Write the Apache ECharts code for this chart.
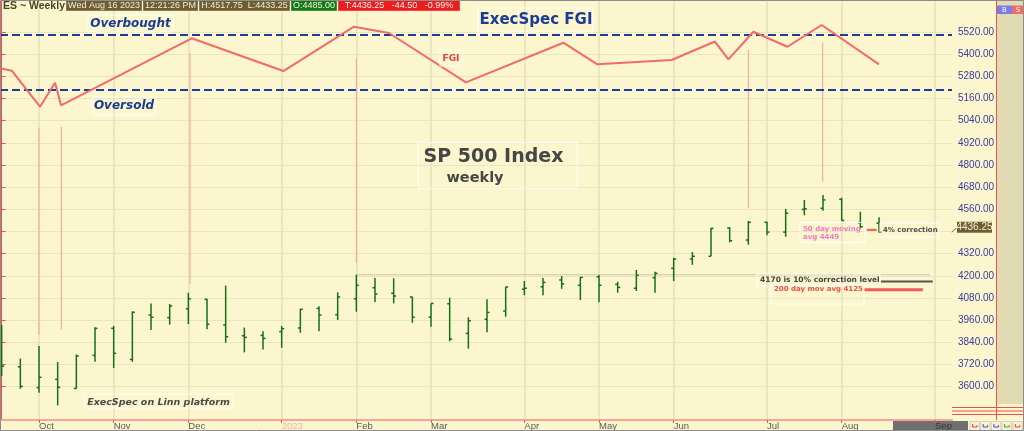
<!DOCTYPE html>
<html><head><meta charset="utf-8">
<script src="https://cdn.jsdelivr.net/npm/echarts@6/dist/echarts.min.js"></script>
<style>html,body{margin:0;padding:0;background:#fbf6cd;}#c{width:1024px;height:431px;}</style>
</head><body><div id="c"></div>
<script>
// ---- weekly ES bars (week ending Friday) ----
const weekEnding = ['2022-09-23','2022-09-30','2022-10-07','2022-10-14','2022-10-21','2022-10-28','2022-11-04','2022-11-11','2022-11-18','2022-11-25','2022-12-02','2022-12-09','2022-12-16','2022-12-23','2022-12-30','2023-01-06','2023-01-13','2023-01-20','2023-01-27','2023-02-03','2023-02-10','2023-02-17','2023-02-24','2023-03-03','2023-03-10','2023-03-17','2023-03-24','2023-03-31','2023-04-07','2023-04-14','2023-04-21','2023-04-28','2023-05-05','2023-05-12','2023-05-19','2023-05-26','2023-06-02','2023-06-09','2023-06-16','2023-06-23','2023-06-30','2023-07-07','2023-07-14','2023-07-21','2023-07-28','2023-08-04','2023-08-11','2023-08-18'];
const openP  = [3889,3708,3595,3640,3591,3770,3916,3748,3988,3974,4022,4073,3934,3876,3878,3898,3918,4024,3990,4076,4136,4106,4086,3976,4049,3889,3965,4010,4128,4141,4178,4149,4195,4154,4133,4190,4241,4291,4306,4459,4394,4490,4437,4560,4566,4614,4488,4485];
const highP  = [3934,3752,3820,3734,3775,3922,3929,4008,4051,4048,4109,4076,4147,3920,3900,3929,4022,4035,4111,4206,4188,4187,4087,4051,4082,3976,4074,4141,4172,4188,4199,4194,4205,4168,4232,4222,4298,4329,4459,4463,4497,4493,4562,4611,4638,4623,4547,4517.75];
const lowP   = [3658,3589,3568,3499,3589,3735,3701,3735,3907,3936,3939,3911,3838,3786,3802,3811,3892,3900,3961,4006,4059,4051,3946,3925,3846,3806,3895,3979,4095,4095,4130,4069,4057,4109,4118,4109,4172,4260,4306,4382,4369,4420,4412,4528,4553,4499,4457,4433.25];
const closeP = [3712,3602,3651,3597,3766,3916,3781,4003,3976,4037,4076,3938,3871,3867,3862,3914,4019,3988,4086,4149,4102,4091,3976,4051,3858,3957,4002,4140,4133,4165,4156,4192,4149,4138,4203,4214,4291,4306,4457,4390,4490,4437,4539,4563,4611,4500,4466,4436.25];

// ---- ExecSpec FGI (week position, value; overbought 80 / oversold 20) ----
const fgiWeek  = [-0.09,0.54,2.05,2.86,3.18,10.18,15.09,18.87,20.75,24.87,30.09,31.91,35.89,38.21,38.93,40.27,42.09,43.93,47.0];
const fgiValue = [43.7,41.1,1.8,28.0,3.3,76.4,40.7,89.1,82.2,28.4,71.6,48.0,52.7,72.9,53.5,83.6,67.2,90.9,48.0];
const overbought = 80, oversold = 20;

// ---- connector lines from FGI extremes down to price ----
const vLineWeek   = [2.0,3.2,10.09,19.0,40.0,43.98];
const vLineTop    = [5000,5006,5406,5379,5423,5462];
const vLineBottom = [3880,3910,4156,4270,4566,4710];

// ---- levels ----
const level10pct = 4170, ma200 = 4125, ma50 = 4449;

// ---- ticks ----
const monthTickWeeks  = [2,6,10,15,19,23,28,32,36,41,45,50];
const monthTickLabels = ['Oct','Nov','Dec','2023','Feb','Mar','Apr','May','Jun','Jul','Aug','Sep'];
const priceTicks = [3600,3720,3840,3960,4080,4200,4320,4440,4560,4680,4800,4920,5040,5160,5280,5400,5520];

const last = openP.length - 1;
const bars = weekEnding.map((d,i)=>[i, openP[i], closeP[i], lowP[i], highP[i]]);
const vlines = vLineWeek.map((w,i)=>[w, vLineTop[i], vLineBottom[i]]);
const xMin = -0.09, xMax = 50.91;

const chart = echarts.init(document.getElementById('c'), null, {renderer:'canvas', width:1024, height:431});

function seg(x1,x2,y){return [[x1,y],[x2,y]];}

const boxStroke = 'rgba(255,255,255,0.85)';
function box(x,y,w,h){return {type:'rect', shape:{x,y,width:w,height:h}, style:{fill:'none', stroke:boxStroke, lineWidth:1}, z:50};}
function txt(x,y,text,font,fill,align){return {type:'text', x, y, style:{text, font, fill, align:align||'center', verticalAlign:'middle'}, z:60};}
function hbox(x,w,text,bg,fg){return [
  {type:'rect', shape:{x, y:0, width:w, height:11}, style:{fill:bg, stroke:'rgba(255,255,255,0.35)', lineWidth:1}, z:80},
  {type:'text', x:x+w/2, y:5.8, style:{text, font:'9px "Liberation Sans"', fill:fg, align:'center', verticalAlign:'middle'}, z:81}
];}

const graphics = [].concat(
  // right strip
  [{type:'rect', shape:{x:997,y:0,width:27,height:404}, style:{fill:'#e0dbb2'}, z:-5},
   {type:'line', shape:{x1:996.5,y1:0,x2:996.5,y2:420}, style:{stroke:'#f05050',lineWidth:1}, z:5},
   {type:'line', shape:{x1:952,y1:407.5,x2:1024,y2:407.5}, style:{stroke:'#f05050',lineWidth:1}, z:5},
   {type:'line', shape:{x1:952,y1:411,x2:1024,y2:411}, style:{stroke:'#f05050',lineWidth:1}, z:5},
   {type:'line', shape:{x1:952,y1:414.5,x2:1024,y2:414.5}, style:{stroke:'#f05050',lineWidth:1}, z:5},
   {type:'rect', shape:{x:997,y:5.5,width:15,height:8.5}, style:{fill:'#7b7bea'}, z:10},
   {type:'text', x:1004.5, y:10, style:{text:'B', font:'7px "DejaVu Sans"', fill:'#fff', align:'center', verticalAlign:'middle'}, z:11},
   {type:'rect', shape:{x:1012,y:5.5,width:12,height:8.5}, style:{fill:'#ef6b6b'}, z:10},
   {type:'text', x:1018, y:10, style:{text:'S', font:'7px "DejaVu Sans"', fill:'#fff', align:'center', verticalAlign:'middle'}, z:11},
   {type:'rect', shape:{x:893,y:421,width:75,height:10}, style:{fill:'#707070'}, z:-1}
  ],
  ['#e84040','#4a4ad0','#4a4ad0','#40a040','#e84040'].map((c,i)=>({type:'group', children:[
     {type:'rect', shape:{x:970+i*10.7,y:421.5,width:9.5,height:9}, style:{fill:'#f6f1d8', stroke:'#d8d2b0', lineWidth:1}},
     {type:'polyline', shape:{points:[[972.5+i*10.7,424],[972.5+i*10.7,427],[977+i*10.7,427],[977+i*10.7,425]]}, style:{stroke:c, lineWidth:1, fill:'none'}}
   ], z:10})),
  // header
  [txt(3,5.8,'ES ~ Weekly','bold 10.5px "Liberation Sans"','#4a4124','left')],
  hbox(66,76,'Wed Aug 16 2023','#6e5f33','#f3ecd2'),
  hbox(143,55,'12:21:26 PM','#6e5f33','#f3ecd2'),
  hbox(199,91,'H:'+highP[last].toFixed(2)+'  L:'+lowP[last].toFixed(2),'#6e5f33','#f3ecd2'),
  hbox(291,46,'O:'+openP[last].toFixed(2),'#147a14','#f3f3e0'),
  hbox(338,122,'T:'+closeP[last].toFixed(2)+'   -44.50   -0.99%','#ee1c1c','#fff5f0'),
  // annotations
  [box(88,15,85,17), txt(130.5,24,'Overbought','bold italic 12px "DejaVu Sans"','#1b3b98'),
   box(93,97,62,18), txt(124,106,'Oversold','bold italic 12px "DejaVu Sans"','#1b3b98'),
   box(478,8,115,24), txt(536,20,'ExecSpec FGI','bold 15px "DejaVu Sans"','#1b3b98'),
   box(440,50,22,16), txt(451,58.5,'FGI','bold 9px "DejaVu Sans"','#d04848'),
   box(418,143,159,45), txt(493.5,157,'SP 500 Index','bold 19px "DejaVu Sans"','#464646'),
   txt(475,178,'weekly','bold 14.5px "DejaVu Sans"','#464646'),
   box(84,394,149,14), txt(158.5,402.5,'ExecSpec on Linn platform','bold italic 9.5px "DejaVu Sans"','#4a4a4a'),
   box(800,222.5,65,20), txt(803,229,'50 day moving','bold 7px "DejaVu Sans"','#f07cc4','left'),
   txt(803,237,'avg '+ma50,'bold 7px "DejaVu Sans"','#f07cc4','left'),
   box(880,223,59,14), txt(883,230.5,'4% correction','bold 7px "DejaVu Sans"','#505050','left'),
   box(757,274,123,12), txt(760,280.3,level10pct+' is 10% correction level','bold 7.5px "DejaVu Sans"','#444','left'),
   box(771,285,93,19), txt(774,289.5,'200 day mov avg '+ma200,'bold 7px "DejaVu Sans"','#f05050','left'),
   {type:'rect', shape:{x:0.5,y:0.5,width:1023,height:430}, style:{fill:'none', stroke:'#8c8c8c', lineWidth:1}, z:90}
  ]
);

const option = {
  backgroundColor:'#fbf6cd',
  animation:false,
  grid:{left:0, right:72, top:0, bottom:11},
  xAxis:[{
    type:'value', min:xMin, max:xMax,
    axisLine:{show:true, onZero:false, lineStyle:{color:'#f7a595', width:2}},
    axisTick:{show:true, customValues:monthTickWeeks, length:3, lineStyle:{color:'#ee5555'}},
    axisLabel:{customValues:monthTickWeeks, align:'left', margin:1, fontSize:9.5, fontFamily:'Liberation Sans', color:'#5a5a55',
      formatter:(v)=>{const i=monthTickWeeks.findIndex(t=>Math.abs(t-v)<0.01); if(i<0) return ''; const s=monthTickLabels[i]; return s==='2023'?'{yr|'+s+'}':(s==='Sep'?'{sep|'+s+'}':s);},
      rich:{yr:{color:'#f2b2a2', fontSize:9.5, fontFamily:'Liberation Sans'}, sep:{color:'#333', fontSize:9.5, fontFamily:'Liberation Sans'}}},
    splitLine:{show:true, lineStyle:{color:'#e7e1bb', width:1.5}}
  }],
  yAxis:[{
    type:'value', position:'right', min:3420, max:5693, scale:true,
    axisLine:{show:true, lineStyle:{color:'#f05050', width:1}},
    axisTick:{show:true, customValues:priceTicks, length:4, lineStyle:{color:'#f05050'}},
    axisLabel:{customValues:priceTicks, margin:6, fontSize:10, fontFamily:'Liberation Sans', color:'#3a3aa0', padding:[0,0,7,0],
      formatter:(v)=> Math.abs(v-4440)<0.5 ? '' : v.toFixed(2)},
    splitLine:{show:true, lineStyle:{color:'#ebe5c1', width:1}}
  },{
    type:'value', min:-340, max:118.2, show:false
  }],
  graphic:graphics,
  series:[
    {type:'line', name:'Overbought', yAxisIndex:1, data:seg(xMin,xMax,overbought), symbol:'none', silent:true,
      lineStyle:{color:'#1c3c9c', width:2, type:[8,4]}, z:3},
    {type:'line', name:'Oversold', yAxisIndex:1, data:seg(xMin,xMax,oversold), symbol:'none', silent:true,
      lineStyle:{color:'#1c3c9c', width:2, type:[8,4]}, z:3},
    {type:'line', name:'FGI', yAxisIndex:1, data:fgiWeek.map((w,i)=>[w,fgiValue[i]]), symbol:'none',
      lineStyle:{color:'#f26a6a', width:2}, z:4},
    {type:'custom', name:'connectors', data:vlines, encode:{x:0,y:[1,2]}, z:2,
      renderItem:(p,api)=>{const a=api.coord([api.value(0),api.value(1)]), b=api.coord([api.value(0),api.value(2)]);
        return {type:'line', shape:{x1:a[0],y1:a[1],x2:b[0],y2:b[1]}, style:{stroke:'#f6a0a0', lineWidth:1}};}},
    {type:'line', name:'Feb high', data:seg(19,49.73,highP[19]), symbol:'none', lineStyle:{color:'#9a9a8a', width:1, type:[1,1]}, z:2},
    {type:'line', name:'10% level', data:seg(47.1,49.88,level10pct), symbol:'none', lineStyle:{color:'#555555', width:2}, z:5},
    {type:'line', name:'200 day', data:seg(46.2,49.35,ma200), symbol:'none', lineStyle:{color:'#f25a5a', width:3}, z:5},
    {type:'line', name:'50 day', data:seg(46.35,46.87,ma50), symbol:'none', lineStyle:{color:'#f25a5a', width:2}, z:5},
    {type:'custom', name:'ES', data:bars, encode:{x:0, y:[1,2,3,4]}, z:6,
      renderItem:(p,api)=>{
        const x=api.value(0);
        const o=api.coord([x,api.value(1)]), c=api.coord([x,api.value(2)]), l=api.coord([x,api.value(3)]), h=api.coord([x,api.value(4)]);
        const st={stroke:'#157018', lineWidth:1.5}; const t=2.5;
        return {type:'group', children:[
          {type:'line', shape:{x1:h[0],y1:h[1],x2:l[0],y2:l[1]}, style:st},
          {type:'line', shape:{x1:o[0]-t,y1:o[1],x2:o[0],y2:o[1]}, style:st},
          {type:'line', shape:{x1:c[0],y1:c[1],x2:c[0]+t,y2:c[1]}, style:st}
        ]};
      }}
  ]
};
chart.setOption(option);

// current-price tag on the price axis, positioned through the axis scale
const tagY = chart.convertToPixel({yAxisIndex:0}, closeP[last]);
const axisX = chart.convertToPixel({xAxisIndex:0}, xMax);
chart.setOption({graphic: graphics.concat([
  {type:'line', shape:{x1:axisX, y1:tagY, x2:axisX+4, y2:tagY-4}, style:{stroke:'#6e5f33', lineWidth:1}, z:70},
  {type:'rect', shape:{x:axisX+5, y:tagY-10.5, width:35, height:11}, style:{fill:'#6e5f33'}, z:70},
  {type:'text', x:axisX+22.5, y:tagY-4.8, style:{text:closeP[last].toFixed(2), font:'10px "Liberation Sans"', fill:'#f3ecd2', align:'center', verticalAlign:'middle'}, z:71}
])});
</script></body></html>
